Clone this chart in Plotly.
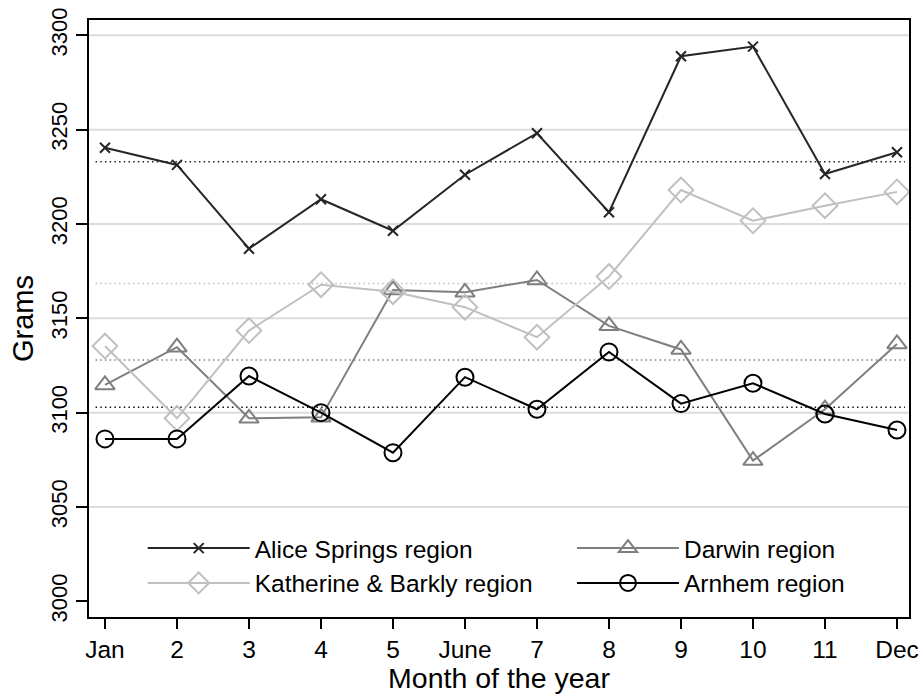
import plotly.graph_objects as go
import numpy as np

months = [1, 2, 3, 4, 5, 6, 7, 8, 9, 10, 11, 12]
month_labels = ["Jan", "2", "3", "4", "5", "June", "7", "8", "9", "10", "11", "Dec"]

alice = [3240.4, 3231.3, 3186.9, 3213.1, 3196.4, 3226.1, 3248.1, 3206.2, 3288.9, 3294.0, 3226.5, 3238.0]
darwin = [3114.7, 3134.7, 3097.0, 3097.5, 3165.0, 3163.8, 3170.3, 3146.0, 3133.5, 3074.6, 3101.8, 3136.4]
katherine = [3135.3, 3097.0, 3143.5, 3167.8, 3164.1, 3155.9, 3140.0, 3172.1, 3218.0, 3201.7, 3209.7, 3217.0]
arnhem = [3086.1, 3086.1, 3119.4, 3100.0, 3078.8, 3118.8, 3101.8, 3132.2, 3104.8, 3115.6, 3099.3, 3090.8]

y_ticks = [3000, 3050, 3100, 3150, 3200, 3250, 3300]
grid_vals = [3050, 3100, 3150, 3200, 3250, 3300]

FONT = "Liberation Sans, Arial, sans-serif"

# name, values, line colour, symbol, marker size, mean-line colour, legend
series = [
    ("Alice Springs region", alice, "#262626", "x-thin-open", 10, "#262626", "legend"),
    ("Darwin region", darwin, "#7f7f7f", "triangle-up-open", 17, "#7f7f7f", "legend2"),
    ("Katherine & Barkly region", katherine, "#c0c0c0", "diamond-open", 19, "#bdbdbd", "legend"),
    ("Arnhem region", arnhem, "#000000", "circle-open", 17, "#111111", "legend2"),
]

fig = go.Figure()

shapes = []
for g in grid_vals:
    shapes.append(dict(type="line", xref="paper", yref="y", x0=0, x1=1, y0=g, y1=g,
                       line=dict(color="#dcdcdc", width=2), layer="below"))

for name, vals, color, sym, size, mcolor, lg in series:
    m = float(np.mean(vals))
    shapes.append(dict(type="line", xref="paper", yref="y", x0=0.008, x1=0.995, y0=m, y1=m,
                       line=dict(color=mcolor, width=1.5, dash="1.5px,3.2px"), layer="below"))

for name, vals, color, sym, size, mcolor, lg in series:
    fig.add_trace(go.Scatter(
        x=months, y=vals, name=name, mode="lines+markers", legend=lg,
        line=dict(color=color, width=2),
        marker=dict(symbol=sym, size=size, color=color, line=dict(color=color, width=2)),
    ))

legend_common = dict(
    orientation="v", xanchor="left", yanchor="top", itemwidth=102,
    font=dict(size=24.5, family=FONT), bgcolor="rgba(0,0,0,0)", traceorder="normal",
)

fig.update_layout(
    width=919, height=694,
    margin=dict(l=89, r=10, t=20, b=77, autoexpand=False),
    paper_bgcolor="white", plot_bgcolor="white",
    font=dict(family=FONT, color="black"),
    shapes=shapes,
    showlegend=True,
    legend=dict(x=0.0655, y=0.153, **legend_common),
    legend2=dict(x=0.589, y=0.153, **legend_common),
    annotations=[dict(
        text="Grams", textangle=-90, xref="paper", yref="paper",
        x=-0.081, y=0.5, xanchor="center", yanchor="middle", showarrow=False,
        font=dict(size=29, family=FONT, color="black"),
    )],
    xaxis=dict(
        range=[0.778, 12.167], tickmode="array", tickvals=months, ticktext=month_labels,
        ticks="outside", ticklen=10, tickwidth=2, tickcolor="black",
        showline=True, linecolor="black", linewidth=2, mirror=True,
        showgrid=False, zeroline=False, automargin=False, ticklabeloverflow="allow",
        tickfont=dict(size=24.5),
        title=dict(text="Month of the year", font=dict(size=28.5), standoff=9),
    ),
    yaxis=dict(
        range=[2991.7, 3308.1], tickmode="array", tickvals=y_ticks,
        ticks="outside", ticklen=11, tickwidth=2, tickcolor="black", tickangle=-90,
        showline=True, linecolor="black", linewidth=2, mirror=True,
        showgrid=False, zeroline=False, automargin=False, ticklabeloverflow="allow",
        tickfont=dict(size=22),
    ),
)

fig.write_html("out.html")
